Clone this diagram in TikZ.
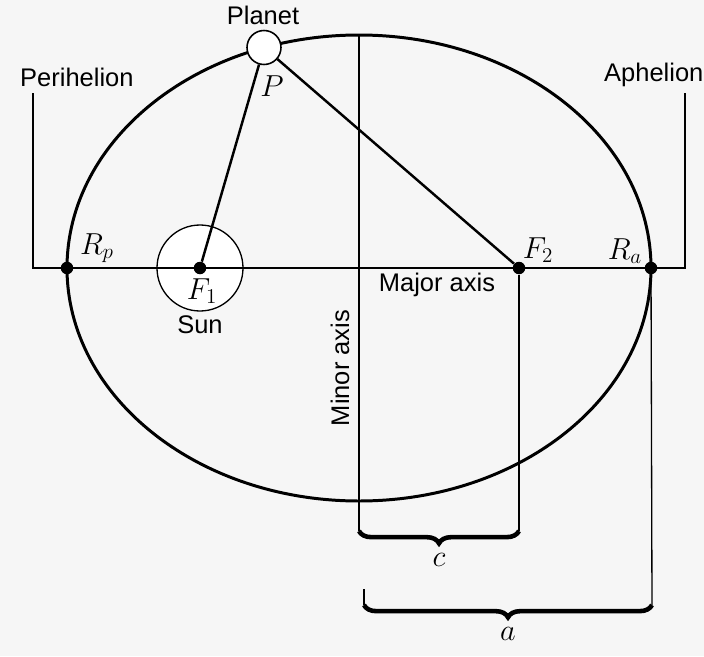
\documentclass[tikz,border=0pt]{standalone}
\usepackage{fontspec}
\setsansfont{Liberation Sans}
\usetikzlibrary{decorations.pathreplacing}

\begin{document}
\begin{tikzpicture}[
    orbit/.style={line width=1.7pt},
    radiusline/.style={line width=1.4pt},
    thinline/.style={line width=0.75pt},
    dot/.style={circle, fill=black, inner sep=0pt, minimum size=0.25cm},
    body/.style={circle, draw, fill=white, inner sep=0pt, line width=0.9pt},
    label/.style={font=\sffamily\fontsize{14.5}{17}\selectfont},
    mathlabel/.style={font=\fontsize{17.5}{20}\selectfont},
    bracket/.style={decorate, decoration={brace, mirror, amplitude=7pt}, line width=2.6pt}
  ]

  % Frame of the picture
  \useasboundingbox (0,0) rectangle (14.08,13.12);
  \fill[gray!7] (0,0) rectangle (14.08,13.12);

  % Points on the axes
  \coordinate (C) at (7.18,7.76);
  \coordinate (perTop) at (0.66,11.26);
  \coordinate (perCorner) at (0.66,7.76);
  \coordinate (aphTop) at (13.70,11.26);
  \coordinate (aphCorner) at (13.70,7.76);
  \coordinate (minTop) at (7.18,12.42);
  \coordinate (cL) at (7.18,2.50);
  \coordinate (cR) at (10.38,2.50);
  \coordinate (aTop) at (7.28,1.34);
  \coordinate (aL) at (7.28,1.02);
  \coordinate (aR) at (13.04,1.02);

  % Orbit
  \draw[orbit] (C) ellipse (5.84 and 4.66);

  % Sun
  \node[body, line width=0.75pt, minimum size=1.72cm] (sun) at (4.0,7.76) {};

  % Axes
  \draw[thinline] (perTop) -- (perCorner) -- (aphCorner) -- (aphTop);
  \draw[thinline] (minTop) -- (cL);

  % Foci and apsides
  \node[dot] (F1) at (4.0,7.76) {};
  \node[dot] (F2) at (10.38,7.76) {};
  \node[dot] (Rp) at (1.34,7.76) {};
  \node[dot] (Ra) at (13.02,7.76) {};

  \draw[thinline] (F2) -- (cR);
  \draw[thinline] (Ra) -- (aR);
  \draw[thinline] (aTop) -- (aL);

  % Planet and focal distances
  \node[body, minimum size=0.68cm] (planet) at (5.28,12.17) {};
  \draw[radiusline] (planet) -- (F1);
  \draw[radiusline] (planet) -- (F2);

  % Braces
  \draw[bracket] (cL) -- node[mathlabel, below=8pt] (clabel) {$c$} (cR);
  \draw[bracket] (aL) -- node[mathlabel, below=8pt] (alabel) {$a$} (aR);

  % Labels
  \node[label] (planetlabel) at (5.26,12.82) {Planet};
  \node[label, anchor=west] (perlabel) at (0.28,11.58) {Perihelion};
  \node[label, anchor=west] (aphlabel) at (11.96,11.62) {Aphelion};
  \node[label] (sunlabel) at (4.0,6.62) {Sun};
  \node[label] (majorlabel) at (8.74,7.42) {Major axis};
  \node[label, rotate=90] (minorlabel) at (6.80,5.76) {Minor axis};

  \node[mathlabel] (Plabel) at (5.44,11.40) {$P$};
  \node[mathlabel] (Rplabel) at (1.94,8.16) {$R_p$};
  \node[mathlabel] (F1label) at (4.04,7.30) {$F_1$};
  \node[mathlabel] (F2label) at (10.76,8.12) {$F_2$};
  \node[mathlabel] (Ralabel) at (12.50,8.10) {$R_a$};

\end{tikzpicture}
\end{document}
